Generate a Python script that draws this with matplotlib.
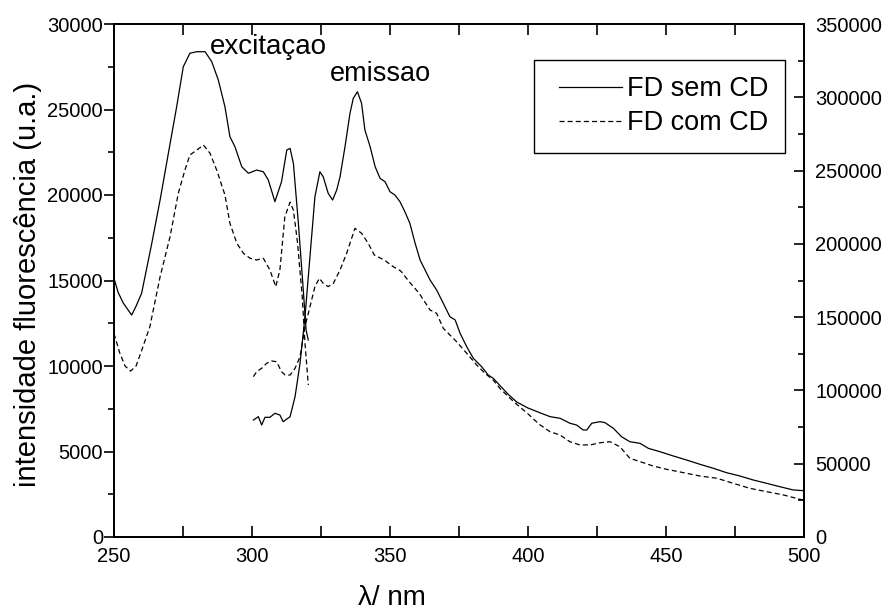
import matplotlib
matplotlib.use("Agg")
import matplotlib.pyplot as plt
from matplotlib.ticker import MultipleLocator
from matplotlib.legend_handler import HandlerLine2D

plt.rcParams['font.family'] = ['Liberation Sans', 'DejaVu Sans']

# Excitation spectra (left axis)
ex_x_sem = [250.0, 251.5, 253.4, 256.4, 258.0, 260.0, 263.7, 266.7, 269.7, 272.7, 275.1, 277.5,
            280.0, 283.0, 285.4, 287.8, 290.2, 292.0, 293.8, 296.3, 298.7, 301.7, 304.1, 305.9,
            308.3, 310.7, 312.6, 313.8, 315.0, 316.8, 318.4, 319.6, 320.4]
ex_y_sem = [15130, 14300, 13670, 12980, 13500, 14250, 17180, 19710, 22440, 25160, 27500, 28290,
            28380, 28380, 27800, 26720, 25160, 23410, 22830, 21650, 21270, 21460, 21360, 20880,
            19610, 20780, 22630, 22730, 21850, 18350, 14840, 12100, 11520]
ex_x_com = [250.0, 252.0, 254.0, 256.0, 258.0, 260.0, 263.0, 266.7, 270.3, 273.3, 275.7, 277.5,
            280.0, 282.4, 284.8, 287.2, 290.2, 292.0, 294.5, 296.9, 299.3, 301.7, 304.1, 306.5,
            308.6, 310.1, 311.9, 313.8, 315.0, 316.5, 318.2, 319.2, 320.4]
ex_y_com = [11900, 10800, 10000, 9700, 10000, 10900, 12300, 15220, 17560, 20100, 21460, 22340,
            22630, 22920, 22440, 21460, 20000, 18350, 17180, 16590, 16300, 16200, 16300, 15610,
            14640, 15610, 18730, 19580, 19120, 17200, 14050, 11330, 8890]

# Emission spectra (right axis)
em_x_sem = [300.5, 302.3, 303.5, 304.7, 306.5, 308.3, 310.1, 311.3, 313.8, 315.6, 317.4, 319.2,
            321.0, 322.8, 324.6, 325.8, 327.6, 329.2, 330.7, 331.9, 333.7, 335.5, 336.7, 338.2,
            339.7, 340.9, 342.8, 344.6, 346.4, 348.2, 350.0, 351.8, 353.6, 355.4, 357.2, 359.1,
            360.9, 362.7, 364.5, 366.9, 369.3, 371.7, 373.6, 375.4, 377.8, 380.2, 383.2, 385.6,
            387.4, 390.0, 393.0, 396.0, 400.0, 404.0, 408.0, 411.6, 415.2, 417.6, 420.0, 421.3,
            423.1, 426.1, 427.9, 430.9, 433.9, 436.9, 440.6, 443.6, 447.8, 452.6, 457.5, 462.3,
            467.1, 471.9, 476.8, 481.6, 486.5, 491.3, 496.1, 500.0]
em_y_sem = [79830, 82100, 76420, 81670, 81670, 84400, 83240, 78670, 82100, 95730, 118500, 150300,
            191200, 232200, 249200, 245800, 234500, 229900, 236800, 245800, 266300, 289100, 299300, 303800,
            295900, 277700, 266300, 252700, 244700, 242400, 235600, 233300, 228800, 221900, 214000, 200400,
            189000, 182200, 175400, 168500, 159500, 150300, 148100, 139000, 129800, 121900, 116200, 110500,
            108300, 103000, 97000, 92000, 88000, 85000, 82100, 81000, 77600, 76400, 73000, 73000,
            77600, 78700, 78000, 74200, 68400, 65000, 63900, 60500, 58200, 55300, 52500, 49600,
            46900, 43900, 41600, 38900, 36600, 34300, 32100, 31600]
em_x_com = [300.5, 301.7, 303.5, 305.3, 307.1, 308.9, 310.7, 312.0, 313.8, 315.6, 317.4, 319.2,
            321.0, 322.8, 324.4, 325.8, 327.6, 329.5, 331.9, 334.3, 337.3, 339.7, 342.1, 344.3,
            347.9, 351.2, 353.9, 357.2, 360.6, 364.5, 366.9, 369.3, 374.1, 377.8, 381.4, 384.4,
            387.4, 390.0, 395.0, 400.0, 404.0, 408.0, 411.6, 415.2, 418.8, 422.5, 426.1, 429.7,
            433.3, 436.9, 440.6, 445.4, 450.2, 456.3, 462.3, 468.4, 474.4, 480.4, 486.5, 492.5,
            498.6, 500.0]
em_y_com = [109400, 112800, 115100, 118500, 120100, 119600, 112800, 110500, 110500, 115100, 123000, 143500,
            157100, 170800, 176500, 173100, 170800, 173100, 182200, 193600, 210600, 207200, 200400, 192400,
            189000, 184400, 181500, 173600, 166200, 154900, 152600, 142400, 133300, 125300, 117400, 111700,
            107100, 101000, 92000, 84000, 77000, 71800, 69600, 65000, 62800, 62800, 64300, 65000,
            61600, 53700, 51400, 48400, 46200, 43900, 41600, 40100, 36600, 33200, 30900, 28700,
            25700, 25000]

labels = ["FD sem CD", "FD com CD"]
x_ticks = [250, 300, 350, 400, 450, 500]

fig = plt.figure(figsize=(8.88, 6.15), dpi=100)
ax = fig.add_axes([114/888, 1-537/615, 690/888, 513/615])
ax2 = ax.twinx()

lw = 0.9
dash = (4, 2.5)
l1, = ax.plot(ex_x_sem, ex_y_sem, color='black', lw=lw, label=labels[0])
l2, = ax.plot(ex_x_com, ex_y_com, color='black', lw=lw, dashes=dash, label=labels[1])
ax2.plot(em_x_sem, em_y_sem, color='black', lw=lw)
ax2.plot(em_x_com, em_y_com, color='black', lw=lw, dashes=dash)

ax.set_xlim(250, 500)
ax.set_ylim(0, 30000)
ax2.set_ylim(0, 350000)

ax.set_xticks(x_ticks)
ax.xaxis.set_minor_locator(MultipleLocator(25))
ax.yaxis.set_major_locator(MultipleLocator(5000))
ax.yaxis.set_minor_locator(MultipleLocator(2500))
ax2.yaxis.set_major_locator(MultipleLocator(50000))
ax2.yaxis.set_minor_locator(MultipleLocator(25000))

for a in (ax, ax2):
    for s in a.spines.values():
        s.set_linewidth(1.3)

ax.tick_params(axis='x', which='both', direction='in', top=True, bottom=True,
               length=8, width=1.2, labelsize=14.5, pad=7)
ax.tick_params(axis='y', which='major', direction='out', length=7, width=1.2,
               labelsize=14.5, pad=1, right=False)
ax.tick_params(axis='y', which='minor', direction='out', length=4, width=1.2, right=False)
ax2.tick_params(axis='y', which='major', direction='in', length=7, width=1.2,
                labelsize=14.5, pad=8)
ax2.tick_params(axis='y', which='minor', direction='in', length=4, width=1.2)

ax.set_ylabel("intensidade fluorescência (u.a.)", fontsize=21)
ax.yaxis.set_label_coords(-0.104, 0.493)
ax.set_xlabel("λ/ nm", fontsize=20)
ax.xaxis.set_label_coords(0.403, -0.093)

ax.text(284.8, 28650, "excitaçao", fontsize=20, ha='left', va='center')
ax.text(328.3, 27100, "emissao", fontsize=19.5, ha='left', va='center')

hpad = 0.33
leg = ax.legend(handles=[l1, l2], loc='upper left', bbox_to_anchor=(0.609, 0.930),
                borderaxespad=0, fontsize=19.5, frameon=True, fancybox=False,
                edgecolor='black', handlelength=2.3 + hpad, handletextpad=0.2,
                borderpad=0.6, labelspacing=0.3,
                handler_map={l1: HandlerLine2D(xpad=hpad), l2: HandlerLine2D(xpad=hpad)})
leg.get_frame().set_linewidth(1.0)
leg.get_frame().set_alpha(1)

fig.savefig("out.png", dpi=100)
